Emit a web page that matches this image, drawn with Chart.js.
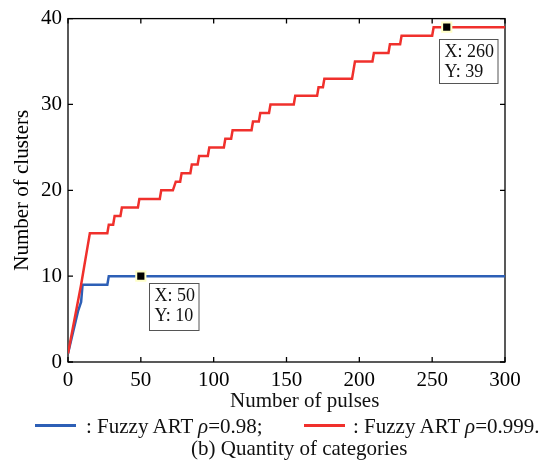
<!DOCTYPE html>
<html>
<head>
<meta charset="utf-8">
<script src="https://cdn.jsdelivr.net/npm/chart.js@4"></script>
<style>
  body { margin: 0; background: #fff; }
  #wrap { position: relative; width: 550px; height: 467px; font-family: "Liberation Serif", "Times New Roman", serif; color: #111; }
  canvas { position: absolute; left: 0; top: 0; }
  .txt { position: absolute; font-size: 21px; line-height: 1; white-space: nowrap; }
  .seg { position: absolute; width: 41px; height: 3px; }
</style>
</head>
<body>
<div id="wrap">
  <canvas id="chart" width="550" height="467"></canvas>
  <div class="txt" style="left:230px; top:390px;">Number of pulses</div>
  <div class="seg" style="left:35px; top:424px; background:#2d5fb6;"></div>
  <div class="txt" style="left:86px; top:416px;">: Fuzzy ART <i>ρ</i>=0.98;</div>
  <div class="seg" style="left:304px; top:424px; background:#f0302c;"></div>
  <div class="txt" style="left:353px; top:416px;">: Fuzzy ART <i>ρ</i>=0.999.</div>
  <div class="txt" style="left:191px; top:438px;">(b) Quantity of categories</div>
</div>
<script>
"use strict";

// DATA (pulse index where the cluster count changes)
const redX = [0, 9, 11, 13, 15, 27, 28, 31, 32, 36, 37, 48, 49, 63, 64, 72, 74, 77, 78, 84, 85, 89, 90, 96, 97, 107, 108, 112, 113, 126, 127, 131, 132, 138, 139, 155, 156, 171, 172, 175, 176, 195, 196, 197, 209, 210, 220, 221, 228, 229, 250, 251, 300];
const redY = [1, 9, 11, 13, 15, 15, 16, 16, 17, 17, 18, 18, 19, 19, 20, 20, 21, 21, 22, 22, 23, 23, 24, 24, 25, 25, 26, 26, 27, 27, 28, 28, 29, 29, 30, 30, 31, 31, 32, 32, 33, 33, 34, 35, 35, 36, 36, 37, 37, 38, 38, 39, 39];
const blueX = [0, 7, 9, 10, 27, 28, 300];
const blueY = [1, 6, 7, 9, 9, 10, 10];

// data tips
const tipX = [50, 260];
const tipY = [10, 39];

const xTicks = [0, 50, 100, 150, 200, 250, 300];
const yTicks = [0, 10, 20, 30, 40];

const RED = "#f0302c";
const BLUE = "#2d5fb6";
const FONT = "'Liberation Serif', 'Times New Roman', serif";

const toPoints = (xs, ys) => xs.map((x, i) => ({ x: x, y: ys[i] }));

// box placement of each data tip, relative to its marker
const tipBox = [
  { dx: 8, dy: 7, h: 47 },
  { dx: -8, dy: 12, h: 44 },
];

//////////////////////////////
// FRAME + INWARD TICKS
const framePlugin = {
  id: "frame",
  beforeDatasetsDraw(chart) {
    const { ctx, chartArea: a, scales } = chart;
    ctx.save();
    ctx.strokeStyle = "#000";
    ctx.lineWidth = 1.3;
    ctx.strokeRect(a.left, a.top, a.right - a.left, a.bottom - a.top);
    ctx.beginPath();
    xTicks.forEach((v) => {
      const px = scales.x.getPixelForValue(v);
      ctx.moveTo(px, a.bottom);
      ctx.lineTo(px, a.bottom - 5);
      ctx.moveTo(px, a.top);
      ctx.lineTo(px, a.top + 5);
    });
    yTicks.forEach((v) => {
      const py = scales.y.getPixelForValue(v);
      ctx.moveTo(a.left, py);
      ctx.lineTo(a.left + 5, py);
      ctx.moveTo(a.right, py);
      ctx.lineTo(a.right - 5, py);
    });
    ctx.stroke();
    ctx.restore();
  },
};

// DATA TIP BOXES
const tipPlugin = {
  id: "tips",
  afterDraw(chart) {
    const { ctx, scales } = chart;
    ctx.save();
    ctx.font = "18px " + FONT;
    tipX.forEach((v, i) => {
      const mx = scales.x.getPixelForValue(v);
      const my = scales.y.getPixelForValue(tipY[i]);
      const l1 = "X: " + v;
      const l2 = "Y: " + tipY[i];
      const w = Math.max(ctx.measureText(l1).width, ctx.measureText(l2).width) + 9;
      const bx = Math.round(mx + tipBox[i].dx) + 0.5;
      const by = Math.round(my + tipBox[i].dy) + 0.5;
      ctx.fillStyle = "#fff";
      ctx.fillRect(bx, by, w, tipBox[i].h);
      ctx.strokeStyle = "#555";
      ctx.lineWidth = 1;
      ctx.strokeRect(bx, by, w, tipBox[i].h);
      ctx.fillStyle = "#111";
      ctx.textBaseline = "alphabetic";
      ctx.fillText(l1, bx + 5, by + 17);
      ctx.fillText(l2, bx + 5, by + 37);
    });
    ctx.restore();
  },
};

//////////////////////////////
// CHART
const ctx = document.getElementById("chart").getContext("2d");
const myChart = new Chart(ctx, {
  type: "line",
  data: {
    datasets: [
      {
        label: "tips",
        data: toPoints(tipX, tipY),
        showLine: false,
        pointStyle: "rect",
        pointRadius: 6.5,
        backgroundColor: "#000",
        borderColor: "#ffffc8",
        borderWidth: 2,
        order: 0,
      },
      {
        label: "Fuzzy ART ρ=0.999",
        data: toPoints(redX, redY),
        borderColor: RED,
        borderWidth: 2.5,
        pointRadius: 0,
        tension: 0,
        order: 1,
      },
      {
        label: "Fuzzy ART ρ=0.98",
        data: toPoints(blueX, blueY),
        borderColor: BLUE,
        borderWidth: 2.5,
        pointRadius: 0,
        tension: 0,
        order: 2,
      },
    ],
  },
  options: {
    responsive: false,
    animation: false,
    devicePixelRatio: 1,
    events: [],
    layout: { padding: { left: 0, top: 18, right: 45, bottom: 0 } },
    plugins: {
      legend: { display: false },
      tooltip: { enabled: false },
    },
    scales: {
      x: {
        type: "linear",
        min: 0,
        max: 300,
        grid: { display: false, drawTicks: false },
        border: { display: false },
        afterBuildTicks: (s) => { s.ticks = xTicks.map((v) => ({ value: v })); },
        ticks: { padding: 6, color: "#000", font: { family: FONT, size: 21 }, maxRotation: 0 },
        afterFit: (s) => { s.height = 105; },
      },
      y: {
        type: "linear",
        min: 0,
        max: 40,
        grid: { display: false, drawTicks: false },
        border: { display: false },
        afterBuildTicks: (s) => { s.ticks = yTicks.map((v) => ({ value: v })); },
        ticks: { padding: 6, color: "#000", font: { family: FONT, size: 21 } },
        title: {
          display: true,
          text: "Number of clusters",
          color: "#000",
          padding: 10,
          font: { family: FONT, size: 21 },
        },
        afterFit: (s) => { s.width = 68; },
      },
    },
  },
  plugins: [framePlugin, tipPlugin],
});
</script>
</body>
</html>
